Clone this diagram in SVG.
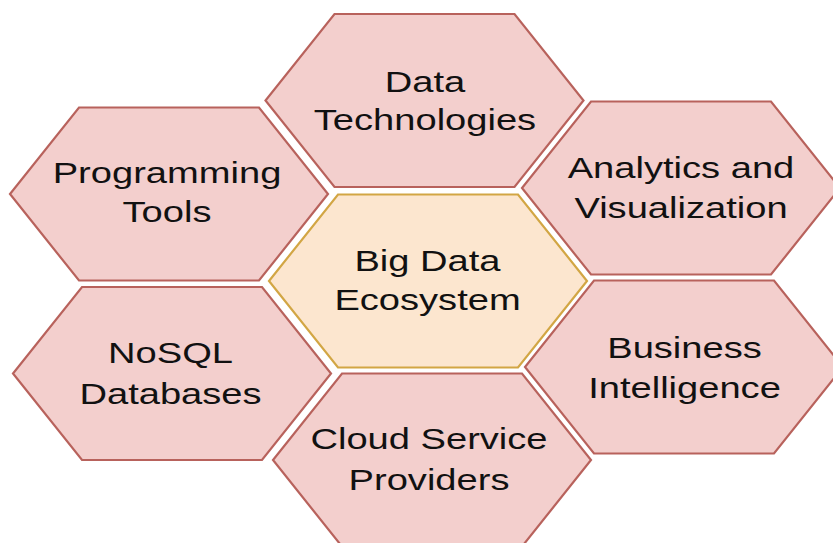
<svg xmlns="http://www.w3.org/2000/svg" width="833" height="543" viewBox="0 0 833 543">
<style>
.hex{fill:#f3cfcd;stroke:#b8625c;stroke-width:2.2;stroke-linejoin:miter}
.core{fill:#fce6cf;stroke:#d2a644;stroke-width:2.2}
.lbl{font-family:"Liberation Sans",Arial,sans-serif;font-size:30px;fill:#111;text-anchor:middle}
</style>
<rect width="833" height="543" fill="#ffffff"/>
<g id="connectors"/>
<g id="data-technologies">
<polygon class="hex" points="334.5,14 514.5,14 583.5,100.5 514.5,187 334.5,187 265.5,100.5"/>
<text class="lbl" transform="translate(425,0) scale(1.27,1)"><tspan x="0" y="91.7">Data</tspan><tspan x="0" y="130">Technologies</tspan></text>
</g>
<g id="programming-tools">
<polygon class="hex" points="79,107.5 259,107.5 328,194 259,280.5 79,280.5 10,194"/>
<text class="lbl" transform="translate(167,0) scale(1.27,1)"><tspan x="0" y="183.3">Programming</tspan><tspan x="0" y="221.7">Tools</tspan></text>
</g>
<g id="analytics-visualization">
<polygon class="hex" points="591,101.5 771,101.5 840,188 771,274.5 591,274.5 522,188"/>
<text class="lbl" transform="translate(681,0) scale(1.27,1)"><tspan x="0" y="178">Analytics and</tspan><tspan x="0" y="218">Visualization</tspan></text>
</g>
<g id="big-data-ecosystem">
<polygon class="core" points="338,194.5 518,194.5 587,281 518,367.5 338,367.5 269,281"/>
<text class="lbl" transform="translate(427.5,0) scale(1.27,1)"><tspan x="0" y="271">Big Data</tspan><tspan x="0" y="310">Ecosystem</tspan></text>
</g>
<g id="nosql-databases">
<polygon class="hex" points="82,287 262,287 331,373.5 262,460 82,460 13,373.5"/>
<text class="lbl" transform="translate(170.5,0) scale(1.27,1)"><tspan x="0" y="363">NoSQL</tspan><tspan x="0" y="404">Databases</tspan></text>
</g>
<g id="business-intelligence">
<polygon class="hex" points="594,280.5 774,280.5 843,367 774,453.5 594,453.5 525,367"/>
<text class="lbl" transform="translate(684.5,0) scale(1.27,1)"><tspan x="0" y="358">Business</tspan><tspan x="0" y="398">Intelligence</tspan></text>
</g>
<g id="cloud-service-providers">
<polygon class="hex" points="342,373.5 522,373.5 591,460 522,546.5 342,546.5 273,460"/>
<text class="lbl" transform="translate(429,0) scale(1.27,1)"><tspan x="0" y="449">Cloud Service</tspan><tspan x="0" y="490">Providers</tspan></text>
</g>
</svg>
